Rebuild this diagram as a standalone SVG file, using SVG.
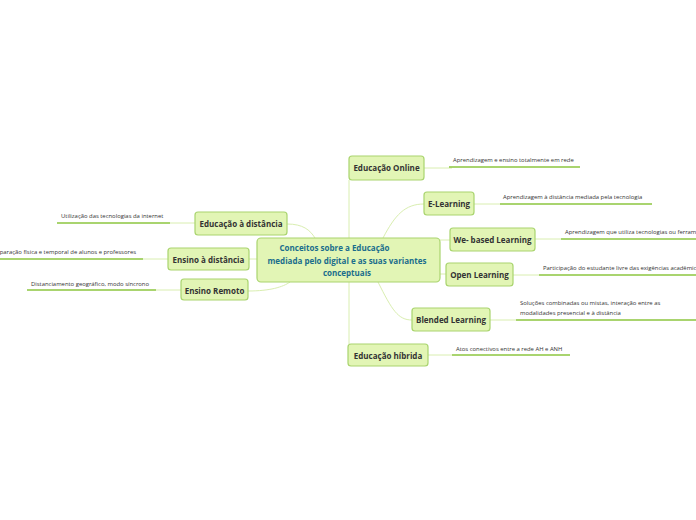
<svg xmlns="http://www.w3.org/2000/svg" width="696" height="520" viewBox="0 0 696 520">
<style>
.node rect{fill:#e2f5b5;stroke:#a9d46e;stroke-width:1.2}
.nt{font-family:"Open Sans","Noto Sans",sans-serif;font-weight:bold;font-size:8px;fill:#333;text-anchor:middle}
.ct{font-family:"Open Sans","Noto Sans",sans-serif;font-weight:bold;font-size:8px;fill:#1a6d8c;text-anchor:middle}
.lb{font-family:"Open Sans","Noto Sans",sans-serif;font-size:5.9px;fill:#333}
.conn path{fill:none;stroke:#d9eeb0;stroke-width:1}
.ul{fill:none;stroke:#8cc63f;stroke-width:1.5}
</style>
<rect width="696" height="520" fill="#ffffff"/>
<g id="connectors" class="conn">
<path d="M349 180 V344"/>
<path d="M424 168 H452"/>
<path d="M383 238 C395 215 405 204 424 204"/>
<path d="M440 240 H450"/>
<path d="M474 204 H500"/>
<path d="M535 239 H561"/>
<path d="M440 274 H446"/>
<path d="M513 275 H539"/>
<path d="M378 282 C392 310 398 320 412 320"/>
<path d="M490 320 H516"/>
<path d="M428 355 H452"/>
<path d="M287 224 C303 224 310 230 315 238"/>
<path d="M170 223 H195"/>
<path d="M249 259 H257"/>
<path d="M143 259 H168"/>
<path d="M248 291 C270 291 283 287 290 282"/>
<path d="M156 290 H181"/>
</g>
<g id="underlines">
<path class="ul" d="M449 167 H580"/>
<path class="ul" d="M500 204 H652"/>
<path class="ul" d="M561 239 H696"/>
<path class="ul" d="M539 275 H696"/>
<path class="ul" d="M516 320 H696"/>
<path class="ul" d="M452 355 H570"/>
<path class="ul" d="M57 223 H170"/>
<path class="ul" d="M0 259 H143"/>
<path class="ul" d="M27 290 H156"/>
</g>
<g id="central" class="node">
<rect x="257" y="238" width="183" height="44" rx="4"/>
<text class="ct" x="334.5" y="251">Conceitos sobre a Educação</text>
<text class="ct" x="347" y="263.5">mediada pelo digital e as suas variantes</text>
<text class="ct" x="347" y="276">conceptuais</text>
</g>
<g id="n-online" class="node">
<rect x="349" y="156" width="75" height="24" rx="3"/>
<text class="nt" x="386.5" y="171">Educação Online</text>
<text class="lb" x="453" y="162">Aprendizagem e ensino totalmente em rede</text>
</g>
<g id="n-elearning" class="node">
<rect x="424" y="192" width="50" height="23" rx="3"/>
<text class="nt" x="449" y="207">E-Learning</text>
<text class="lb" x="503" y="199">Aprendizagem à distância mediada pela tecnologia</text>
</g>
<g id="n-webased" class="node">
<rect x="450" y="228" width="85" height="23" rx="3"/>
<text class="nt" x="492.5" y="243">We- based Learning</text>
<text class="lb" x="565" y="234">Aprendizagem que utiliza tecnologias ou ferramentas da web</text>
</g>
<g id="n-open" class="node">
<rect x="446" y="263" width="67" height="23" rx="3"/>
<text class="nt" x="479.5" y="278">Open Learning</text>
<text class="lb" x="543" y="270">Participação do estudante livre das exigências acadêmicas</text>
</g>
<g id="n-blended" class="node">
<rect x="412" y="308" width="78" height="23" rx="3"/>
<text class="nt" x="451" y="323">Blended Learning</text>
<text class="lb" x="520" y="305">Soluções combinadas ou mistas, interação entre as</text>
<text class="lb" x="520" y="315">modalidades presencial e à distância</text>
</g>
<g id="n-hibrida" class="node">
<rect x="348" y="344" width="80" height="22" rx="3"/>
<text class="nt" x="388" y="359">Educação híbrida</text>
<text class="lb" x="456" y="351">Atos conectivos entre a rede AH e ANH</text>
</g>
<g id="n-edist" class="node">
<rect x="195" y="212" width="92" height="23" rx="3"/>
<text class="nt" x="241" y="227">Educação à distância</text>
<text class="lb" x="61" y="218">Utilização das tecnologias da internet</text>
</g>
<g id="n-ensdist" class="node">
<rect x="168" y="248" width="81" height="22" rx="3"/>
<text class="nt" x="208.5" y="263">Ensino à distância</text>
<text class="lb" x="136" y="254" text-anchor="end">Separação física e temporal de alunos e professores</text>
</g>
<g id="n-remoto" class="node">
<rect x="181" y="279" width="67" height="21" rx="3"/>
<text class="nt" x="214.5" y="294">Ensino Remoto</text>
<text class="lb" x="31" y="286">Distanciamento geográfico, modo síncrono</text>
</g>
</svg>
